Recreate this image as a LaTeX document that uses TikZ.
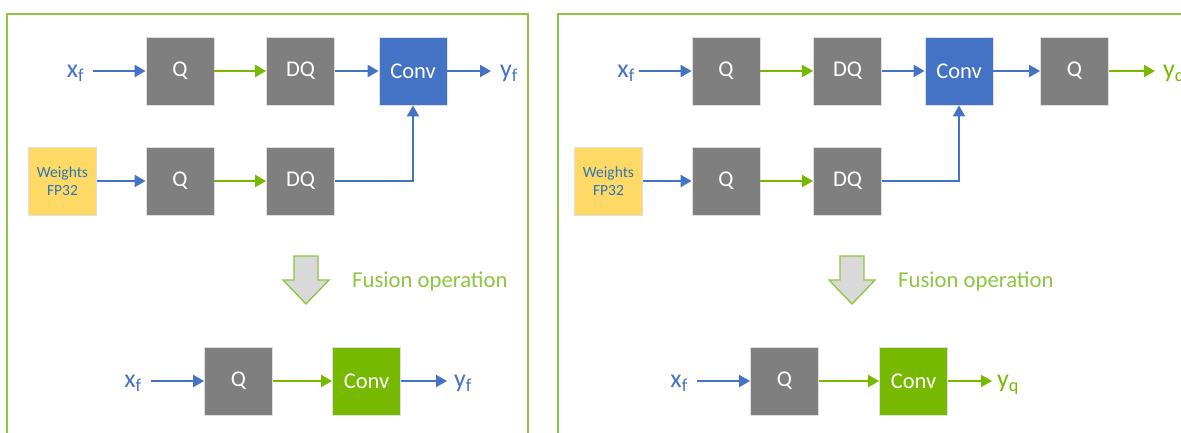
\documentclass[tikz,border=0pt]{standalone}
\usepackage{fontspec}
\setmainfont{Carlito}
\usetikzlibrary{arrows.meta}
\definecolor{nvgreen}{HTML}{76B900}
\definecolor{lblue}{HTML}{4472C4}
\definecolor{boxgray}{HTML}{7F7F7F}
\definecolor{wyellow}{HTML}{FFD966}
\definecolor{wtext}{HTML}{2E75B6}
\definecolor{framegreen}{HTML}{8DC63F}
\definecolor{fusgray}{HTML}{D9D9D9}
\begin{document}
\begin{tikzpicture}[x=1pt,y=-1pt,
  blk/.style={minimum width=68pt,minimum height=68pt,inner sep=0pt,draw=black!12,line width=0.8pt,text=white,font=\fontsize{22.5}{24}\selectfont},
  qbox/.style={blk,fill=boxgray},
  convb/.style={blk,fill=lblue},
  convg/.style={blk,fill=nvgreen},
  wbox/.style={blk,fill=wyellow,text=wtext,align=center,font=\fontsize{15.5}{18.5}\selectfont},
  lbl/.style={inner sep=0pt,font=\fontsize{26}{28}\selectfont},
  blbl/.style={lbl,text=lblue},
  glbl/.style={lbl,text=nvgreen},
  tip/.style={-{Triangle[length=11pt,width=12pt]}},
  barrow/.style={draw=lblue,line width=2pt,tip},
  garrow/.style={draw=nvgreen,line width=2pt,tip},
  frame/.style={draw=framegreen,line width=2pt},
  fusarrow/.style={draw=framegreen,fill=fusgray,line width=1.3pt,line join=miter},
  fustext/.style={inner sep=0pt,anchor=west,text=framegreen,font=\fontsize{22.7}{24}\selectfont}]
\useasboundingbox (0,0) rectangle (1181,432);
\fill[white] (0,0) rectangle (1181,432);

% frames
\draw[frame] (7,14) rectangle (528,460);
\draw[frame] (558,14) rectangle (1200,460);

% ---------- left panel ----------
\node[qbox] (lq1) at (180,71) {Q};
\node[qbox] (ldq1) at (300.5,71) {DQ};
\node[convb] (lconv1) at (413,71) {Conv};
\node[wbox] (lw) at (62.5,181) {Weights\\FP32};
\node[qbox] (lq2) at (180,181) {Q};
\node[qbox] (ldq2) at (300.5,181) {DQ};
\node[blbl,anchor=base east] (lxf1) at (84.5,77.5) {x\textsubscript{f}};
\node[blbl,anchor=base west] (lyf1) at (500,77.5) {y\textsubscript{f}};

\draw[barrow,shorten <=8pt] (lxf1.east |- lq1.west) -- (lq1.west);
\draw[garrow] (lq1.east) -- (ldq1.west);
\draw[barrow] (ldq1.east) -- (lconv1.west);
\draw[barrow,shorten >=9pt] (lconv1.east) -- (lyf1.west |- lconv1.east);
\draw[barrow] (lw.east) -- (lq2.west);
\draw[garrow] (lq2.east) -- (ldq2.west);
\draw[barrow] (ldq2.east) -| (lconv1.south);

\coordinate (lfa) at (306,256);
\draw[fusarrow] ([xshift=-12pt]lfa) -- ([xshift=12pt]lfa) -- ([xshift=12pt,yshift=-24pt]lfa) -- ([xshift=23pt,yshift=-24pt]lfa) -- ([yshift=-48pt]lfa) -- ([xshift=-23pt,yshift=-24pt]lfa) -- ([xshift=-12pt,yshift=-24pt]lfa) -- cycle;
\node[fustext] (lfus) at (352,281) {Fusion operation};

\node[qbox] (lq3) at (238.5,381) {Q};
\node[convg] (lconv3) at (366.5,381) {Conv};
\node[blbl,anchor=base east] (lxf3) at (142,387.5) {x\textsubscript{f}};
\node[blbl,anchor=base west] (lyf3) at (454,387.5) {y\textsubscript{f}};
\draw[barrow,shorten <=9pt] (lxf3.east |- lq3.west) -- (lq3.west);
\draw[garrow] (lq3.east) -- (lconv3.west);
\draw[barrow,shorten >=7pt] (lconv3.east) -- (lyf3.west |- lconv3.east);

% ---------- right panel ----------
\node[qbox] (rq1) at (726,71) {Q};
\node[qbox] (rdq1) at (847.5,71) {DQ};
\node[convb] (rconv1) at (959,71) {Conv};
\node[qbox] (rq4) at (1074.5,71) {Q};
\node[wbox] (rw) at (608.5,181) {Weights\\FP32};
\node[qbox] (rq2) at (726,181) {Q};
\node[qbox] (rdq2) at (847.5,181) {DQ};
\node[blbl,anchor=base east] (rxf1) at (635,77.5) {x\textsubscript{f}};
\node[glbl,anchor=base west] (ryq1) at (1163,77.5) {y\textsubscript{q}};

\draw[barrow,shorten <=4pt] (rxf1.east |- rq1.west) -- (rq1.west);
\draw[garrow] (rq1.east) -- (rdq1.west);
\draw[barrow] (rdq1.east) -- (rconv1.west);
\draw[barrow] (rconv1.east) -- (rq4.west);
\draw[garrow,shorten >=8pt] (rq4.east) -- (ryq1.west |- rq4.east);
\draw[barrow] (rw.east) -- (rq2.west);
\draw[garrow] (rq2.east) -- (rdq2.west);
\draw[barrow] (rdq2.east) -| (rconv1.south);

\coordinate (rfa) at (852,256);
\draw[fusarrow] ([xshift=-12pt]rfa) -- ([xshift=12pt]rfa) -- ([xshift=12pt,yshift=-24pt]rfa) -- ([xshift=23pt,yshift=-24pt]rfa) -- ([yshift=-48pt]rfa) -- ([xshift=-23pt,yshift=-24pt]rfa) -- ([xshift=-12pt,yshift=-24pt]rfa) -- cycle;
\node[fustext] (rfus) at (898,281) {Fusion operation};

\node[qbox] (rq3) at (784.5,381) {Q};
\node[convg] (rconv3) at (913.5,381) {Conv};
\node[blbl,anchor=base east] (rxf3) at (688,387.5) {x\textsubscript{f}};
\node[glbl,anchor=base west] (ryq3) at (997,387.5) {y\textsubscript{q}};
\draw[barrow,shorten <=9pt] (rxf3.east |- rq3.west) -- (rq3.west);
\draw[garrow] (rq3.east) -- (rconv3.west);
\draw[garrow,shorten >=5pt] (rconv3.east) -- (ryq3.west |- rconv3.east);
\end{tikzpicture}
\end{document}
